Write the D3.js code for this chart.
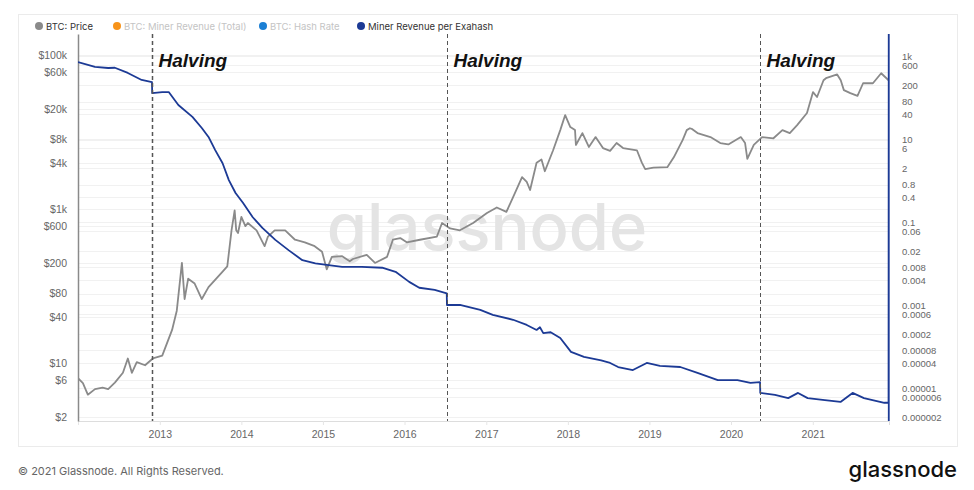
<!DOCTYPE html>
<html>
<head>
<meta charset="utf-8">
<script src="https://cdn.jsdelivr.net/npm/d3@7"></script>
<style>
  body { margin: 0; background: #fff; }
  svg { display: block; font-family: Inter, "Noto Sans", sans-serif; }
</style>
</head>
<body>
<div id="chart"></div>
<script>
// BTC price, USD
const priceSeries = [
  ["2012-01-01", 6.4], ["2012-01-23", 5.5], ["2012-02-14", 3.9], ["2012-03-17", 4.6],
  ["2012-04-20", 4.8], ["2012-05-15", 4.6], ["2012-06-14", 5.6], ["2012-07-20", 7.5],
  ["2012-08-11", 11.5], ["2012-08-29", 7.5], ["2012-09-20", 10.3], ["2012-10-27", 9.4],
  ["2012-12-01", 11.5], ["2013-01-12", 12.5], ["2013-02-25", 27], ["2013-03-18", 48],
  ["2013-04-10", 200], ["2013-04-22", 68], ["2013-05-08", 125], ["2013-06-06", 108],
  ["2013-07-08", 68], ["2013-08-07", 97], ["2013-10-05", 150], ["2013-10-30", 180],
  ["2013-11-18", 530], ["2013-12-02", 960], ["2013-12-09", 530], ["2013-12-17", 490],
  ["2014-01-01", 790], ["2014-01-19", 600], ["2014-01-30", 660], ["2014-03-10", 530],
  ["2014-04-15", 330], ["2014-04-30", 440], ["2014-05-30", 530], ["2014-07-16", 530],
  ["2014-08-29", 400], ["2014-10-12", 370], ["2014-11-25", 330], ["2014-12-28", 280],
  ["2015-01-18", 165], ["2015-02-10", 240], ["2015-03-28", 245], ["2015-05-01", 210],
  ["2015-05-15", 225], ["2015-07-16", 255], ["2015-08-22", 200], ["2015-10-15", 240],
  ["2015-11-10", 400], ["2015-12-13", 420], ["2016-01-11", 370], ["2016-03-10", 400],
  ["2016-05-25", 440], ["2016-06-17", 660], ["2016-07-23", 560], ["2016-09-05", 530],
  ["2016-11-03", 660], ["2017-01-04", 890], ["2017-02-17", 1050], ["2017-04-01", 920],
  ["2017-05-01", 1430], ["2017-06-10", 2600], ["2017-07-01", 2250], ["2017-07-16", 1770],
  ["2017-08-14", 4000], ["2017-09-05", 4400], ["2017-09-20", 3100], ["2017-10-27", 5800],
  ["2017-11-28", 10600], ["2017-12-20", 16600], ["2018-01-12", 11600], ["2018-02-02", 10600],
  ["2018-02-06", 6800], ["2018-03-07", 9700], ["2018-04-05", 6400], ["2018-05-05", 8600],
  ["2018-06-07", 6200], ["2018-07-09", 5700], ["2018-08-07", 7200], ["2018-09-05", 6200],
  ["2018-11-06", 5800], ["2018-11-28", 4000], ["2018-12-13", 3300], ["2019-01-19", 3450],
  ["2019-03-22", 3500], ["2019-04-20", 4700], ["2019-05-30", 7900], ["2019-06-17", 10600],
  ["2019-07-01", 11200], ["2019-07-12", 10900], ["2019-08-04", 9700], ["2019-10-01", 8600],
  ["2019-11-14", 7200], ["2019-12-20", 6900], ["2020-02-14", 8600], ["2020-03-04", 7200],
  ["2020-03-14", 4500], ["2020-04-12", 6800], ["2020-05-19", 8600], ["2020-07-09", 8300],
  ["2020-08-18", 10600], ["2020-09-20", 9700], ["2020-10-23", 12300], ["2020-12-06", 17700],
  ["2021-01-02", 33000], ["2021-01-20", 28500], ["2021-02-18", 47000], ["2021-03-01", 50000],
  ["2021-03-18", 52000], ["2021-04-20", 56000], ["2021-05-06", 47000], ["2021-05-20", 35000],
  ["2021-06-18", 32000], ["2021-07-20", 29500], ["2021-08-14", 43000], ["2021-09-27", 43000],
  ["2021-11-03", 58000], ["2021-12-06", 47000]
];

// Miner revenue per exahash (right axis)
const revenueSeries = [
  ["2012-01-01", 716], ["2012-03-17", 544], ["2012-05-15", 513], ["2012-06-14", 520],
  ["2012-08-11", 390], ["2012-10-12", 264], ["2012-11-27", 236], ["2012-11-28", 128],
  ["2013-01-12", 135], ["2013-02-10", 135], ["2013-03-25", 66], ["2013-05-27", 34],
  ["2013-07-08", 18.4], ["2013-08-07", 11.2], ["2013-09-06", 5.4], ["2013-10-09", 2.6],
  ["2013-11-06", 1.02], ["2013-12-06", 0.5], ["2014-01-08", 0.29], ["2014-02-21", 0.13],
  ["2014-04-05", 0.072], ["2014-06-02", 0.037], ["2014-07-31", 0.021], ["2014-10-01", 0.012],
  ["2014-11-28", 0.010], ["2015-01-26", 0.0091], ["2015-03-28", 0.0083], ["2015-06-24", 0.0083],
  ["2015-09-23", 0.0079], ["2015-11-22", 0.0063], ["2016-01-22", 0.0036], ["2016-03-07", 0.0026],
  ["2016-05-15", 0.0023], ["2016-07-08", 0.0019], ["2016-07-09", 0.001], ["2016-09-05", 0.001],
  ["2016-12-05", 0.00076], ["2017-01-30", 0.00058], ["2017-05-01", 0.00044], ["2017-07-01", 0.00033],
  ["2017-08-14", 0.00025], ["2017-08-29", 0.00029], ["2017-09-13", 0.00021], ["2017-10-16", 0.00022],
  ["2017-11-28", 0.00016], ["2018-01-15", 0.000074], ["2018-03-14", 0.000056], ["2018-05-30", 0.000046],
  ["2018-07-09", 0.000040], ["2018-08-14", 0.000032], ["2018-10-19", 0.000027], ["2018-12-20", 0.000040],
  ["2019-02-17", 0.000034], ["2019-05-19", 0.000032], ["2019-08-04", 0.000023], ["2019-11-03", 0.0000155],
  ["2020-01-30", 0.0000155], ["2020-03-28", 0.0000132], ["2020-05-10", 0.0000138], ["2020-05-11", 0.0000076],
  ["2020-07-16", 0.0000068], ["2020-09-13", 0.0000057], ["2020-10-27", 0.0000076], ["2020-12-09", 0.0000057],
  ["2021-02-24", 0.0000051], ["2021-05-05", 0.0000046], ["2021-06-28", 0.0000076], ["2021-08-18", 0.0000057],
  ["2021-11-17", 0.0000044], ["2021-12-06", 0.0000044], ["2021-12-07", 100000], ["2021-12-07", 1e-9]
];

const halvings = ["2012-11-28", "2016-07-09", "2020-05-11"];

const leftTicks = [2, 6, 10, 40, 80, 200, 600, 1000, 4000, 8000, 20000, 60000, 100000];
const leftLabels = ["$2", "$6", "$10", "$40", "$80", "$200", "$600", "$1k", "$4k", "$8k", "$20k", "$60k", "$100k"];
const rightTicks = [0.000002, 0.000006, 0.00001, 0.00004, 0.00008, 0.0002, 0.0006, 0.001, 0.004, 0.008,
  0.02, 0.06, 0.1, 0.4, 0.8, 2, 6, 10, 40, 80, 200, 600, 1000];
const rightLabels = ["0.000002", "0.000006", "0.00001", "0.00004", "0.00008", "0.0002", "0.0006", "0.001",
  "0.004", "0.008", "0.02", "0.06", "0.1", "0.4", "0.8", "2", "6", "10", "40", "80", "200", "600", "1k"];

const legendItems = [
  { name: "BTC: Price", color: "#8a8a8a", active: true },
  { name: "BTC: Miner Revenue (Total)", color: "#f7931a", active: false },
  { name: "BTC: Hash Rate", color: "#1b7fd4", active: false },
  { name: "Miner Revenue per Exahash", color: "#1c3a95", active: true }
];

const W = 974, H = 490;
const plot = { left: 78, right: 889, top: 34, bottom: 421 };
const parse = d3.timeParse("%Y-%m-%d");

const svg = d3.select("#chart").append("svg")
  .attr("width", W).attr("height", H);

// panel
svg.append("rect")
  .attr("x", 18.5).attr("y", 14.5).attr("width", 939).attr("height", 432)
  .attr("fill", "#fff").attr("stroke", "#ebebeb");

const x = d3.scaleTime()
  .domain([parse("2012-01-01"), parse("2021-12-08")])
  .range([plot.left, plot.right]);

const yL = d3.scaleLog().domain([1.775, 187400]).range([plot.bottom, plot.top]);
const yR = d3.scaleLog().domain([1.6e-6, 3387]).range([plot.bottom, plot.top]);

// grid
const grid = svg.append("g");
grid.selectAll("line.gl").data(leftTicks).enter().append("line")
  .attr("x1", plot.left).attr("x2", plot.right)
  .attr("y1", d => Math.round(yL(d)) + 0.5).attr("y2", d => Math.round(yL(d)) + 0.5)
  .attr("stroke", "#f1f1f1");
grid.selectAll("line.gr").data(rightTicks).enter().append("line")
  .attr("x1", plot.left).attr("x2", plot.right)
  .attr("y1", d => Math.round(yR(d)) + 0.5).attr("y2", d => Math.round(yR(d)) + 0.5)
  .attr("stroke", "#f1f1f1");

// watermark
svg.append("text")
  .attr("x", 487).attr("y", 250)
  .attr("text-anchor", "middle")
  .attr("font-size", 65).attr("font-weight", 500)
  .attr("fill", "#e4e4e4")
  .text("glassnode");

// x axis
const xAxis = svg.append("g")
  .attr("transform", `translate(0,${plot.bottom})`)
  .call(d3.axisBottom(x).ticks(d3.timeYear.every(1)).tickSize(4).tickPadding(6)
    .tickFormat(d => d.getFullYear() === 2012 ? "" : d3.timeFormat("%Y")(d)));
xAxis.select(".domain").attr("stroke", "#ddd");
xAxis.selectAll(".tick line").attr("stroke", "#e6e6e6");
xAxis.selectAll(".tick text").attr("fill", "#666").attr("font-size", 10.5);

// left axis
const lAxis = svg.append("g")
  .attr("transform", `translate(${plot.left},0)`)
  .call(d3.axisLeft(yL).tickValues(leftTicks).tickSize(0).tickPadding(11)
    .tickFormat((d, i) => leftLabels[i]));
lAxis.select(".domain").attr("stroke", "#8a8a8a").attr("stroke-width", 1.5);
lAxis.selectAll(".tick text").attr("fill", "#666").attr("font-size", 10.5);

// right axis
const rAxis = svg.append("g")
  .attr("transform", `translate(${plot.right},0)`)
  .call(d3.axisRight(yR).tickValues(rightTicks).tickSize(0).tickPadding(13)
    .tickFormat((d, i) => rightLabels[i]));
rAxis.select(".domain").remove();
rAxis.selectAll(".tick text").attr("fill", "#666").attr("font-size", 9.5);

// clip
svg.append("clipPath").attr("id", "clip").append("rect")
  .attr("x", plot.left).attr("y", plot.top)
  .attr("width", plot.right - plot.left + 1).attr("height", plot.bottom - plot.top);

const lines = svg.append("g").attr("clip-path", "url(#clip)");

const priceLine = d3.line().x(d => x(parse(d[0]))).y(d => yL(d[1]));
const revLine = d3.line().x(d => x(parse(d[0]))).y(d => yR(d[1]));

lines.append("path").datum(priceSeries)
  .attr("d", priceLine).attr("fill", "none")
  .attr("stroke", "#8a8a8a").attr("stroke-width", 1.8).attr("stroke-linejoin", "round");

lines.append("path").datum(revenueSeries)
  .attr("d", revLine).attr("fill", "none")
  .attr("stroke", "#1c3a95").attr("stroke-width", 1.8).attr("stroke-linejoin", "round");

// halvings
halvings.forEach((h, i) => {
  const hx = Math.round(x(parse(h))) + 0.5;
  svg.append("line")
    .attr("x1", hx).attr("x2", hx).attr("y1", plot.top).attr("y2", plot.bottom)
    .attr("stroke", "#555").attr("stroke-width", i === 0 ? 1.5 : 1)
    .attr("stroke-dasharray", "4,3");
  svg.append("text")
    .attr("x", hx + 6).attr("y", 67)
    .attr("font-family", "'Liberation Sans', Arial, sans-serif")
    .attr("font-size", 19).attr("font-weight", "bold").attr("font-style", "italic")
    .attr("fill", "#111")
    .text("Halving");
});

// legend
const legX = [39, 117, 263, 361];
const leg = svg.append("g");
legendItems.forEach((item, i) => {
  leg.append("circle").attr("cx", legX[i]).attr("cy", 26).attr("r", 4).attr("fill", item.color);
  leg.append("text").attr("x", legX[i] + 7).attr("y", 29.5)
    .attr("font-size", 9.5).attr("fill", item.active ? "#333" : "#c4c4c4")
    .text(item.name);
});

// footer
svg.append("text").attr("x", 18).attr("y", 475)
  .attr("font-size", 11).attr("fill", "#666")
  .text("© 2021 Glassnode. All Rights Reserved.");
svg.append("text").attr("x", 957).attr("y", 477)
  .attr("text-anchor", "end")
  .attr("font-size", 22).attr("font-weight", 500).attr("fill", "#111")
  .text("glassnode");
</script>
</body>
</html>
